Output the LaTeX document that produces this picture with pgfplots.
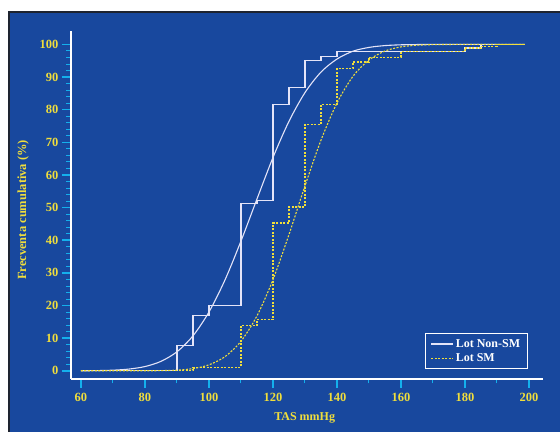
\documentclass[border=0pt]{standalone}
\usepackage{pgfplots}
\pgfplotsset{compat=1.18}
\usepackage{fontspec}
\setmainfont{Liberation Serif}
\definecolor{bgblue}{RGB}{24,72,158}
\definecolor{ylw}{RGB}{240,222,60}
\definecolor{tickcyan}{RGB}{20,176,236}
\definecolor{linewhite}{RGB}{228,228,248}
\definecolor{edge}{RGB}{30,36,48}
\begin{document}
\begin{tikzpicture}
\fill[white] (0,0) rectangle (560bp,432bp);
\fill[bgblue] (9bp,0) rectangle (560bp,420bp);
\draw[edge, line width=1.5bp] (9bp,0) -- (9bp,420bp) -- (560bp,420bp);
\begin{axis}[
  at={(71bp,53bp)}, anchor=south west,
  width=472bp, height=348bp, scale only axis,
  xmin=56.9, xmax=204.4, ymin=-2.5, ymax=104.1,
  axis x line=bottom, axis y line=left,
  axis line style={white, line width=1.5bp, -},
  xtick={60,80,...,200}, minor x tick num=1,
  ytick={0,10,...,100}, minor y tick num=4,
  tick align=outside,
  major tick length=9bp, minor tick length=4.5bp,
  every tick/.style={tickcyan},
  every major tick/.append style={line width=1.6bp},
  every minor tick/.append style={line width=0.9bp},
  ticklabel style={font=\fontsize{12.5bp}{14bp}\selectfont\bfseries, text=ylw},
  xticklabel style={yshift=-1.5bp},
  /pgf/number format/assume math mode=true,
  xlabel={TAS mmHg}, ylabel={Frecventa cumulativa (\%)},
  every axis x label/.style={at={(axis description cs:0.495,-0.112)}, anchor=center, font=\fontsize{12bp}{14bp}\selectfont\bfseries, text=ylw},
  every axis y label/.style={at={(axis description cs:-0.1017,0.486)}, anchor=center, rotate=90, font=\fontsize{12.5bp}{14bp}\selectfont\bfseries, text=ylw},
  legend cell align=left,
  legend style={at={(0.9676,0.0279)}, anchor=south east, draw=white, line width=1.2bp, fill=none, text=white, font=\fontsize{12bp}{14bp}\selectfont\bfseries, inner xsep=5bp, inner ysep=3.5bp, row sep=1bp},
  legend image code/.code={\draw[#1] (0bp,0bp) -- (22bp,0bp);},
]
\addplot[linewhite, line width=1.3bp, const plot] coordinates {
(60,0) (90,7.76) (95,16.9) (100,20.1) (110,51.2) (115,52.1) (120,81.5) (125,86.8) (130,95.0) (135,96.2) (140,97.8) (180,98.9) (185,100) (198.7,100)};
\addlegendentry{Lot Non-SM}
\addplot[linewhite, line width=1.1bp, smooth, forget plot] coordinates {
(60,0.02) (65,0.07) (70,0.2) (75,0.54) (80,1.31) (85,2.9) (90,5.83) (95,10.7) (100,18.0) (105,27.8) (110,39.7) (115,52.6) (120,65.3) (125,76.4) (130,85.2) (135,91.5) (140,95.5) (145,97.9) (150,99.07) (155,99.63) (160,99.87) (165,99.95) (170,99.99) (180,100) (198.7,100)};
\addplot[ylw, line width=1.2bp, dash pattern=on 2bp off 1.5bp, const plot] coordinates {
(60,0) (95,1.1) (110,13.8) (115,15.7) (120,45.3) (125,50.2) (130,75.4) (135,81.5) (140,92.6) (145,94.6) (150,96.1) (160,97.8) (180,98.9) (185,99.4) (190,100) (198.7,100)};
\addlegendentry{Lot SM}
\addplot[ylw, line width=1.1bp, dash pattern=on 2bp off 1.5bp, smooth, forget plot] coordinates {
(60,0) (70,0) (80,0.02) (85,0.06) (90,0.22) (95,0.68) (100,1.83) (105,4.33) (110,9.04) (115,16.8) (120,27.9) (125,41.7) (130,56.6) (135,70.6) (140,82.0) (145,90.2) (150,95.2) (155,97.96) (160,99.23) (165,99.74) (170,99.92) (180,100) (198.7,100)};
\end{axis}
\pgfresetboundingbox
\useasboundingbox (0,0) rectangle (560bp,432bp);
\end{tikzpicture}
\end{document}
